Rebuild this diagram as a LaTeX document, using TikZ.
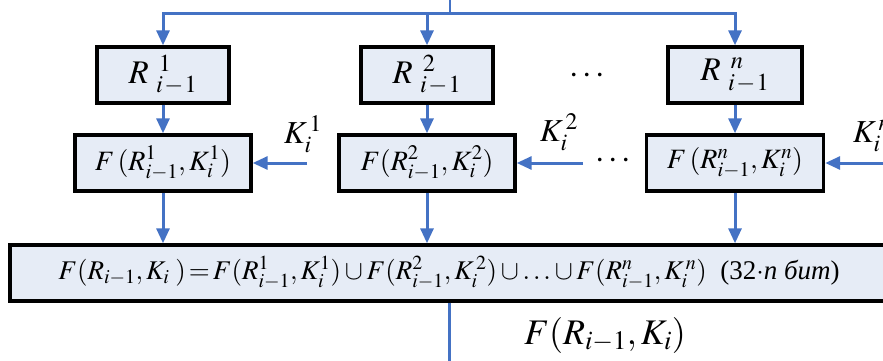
\documentclass[tikz,border=0pt]{standalone}
\usepackage{mathptmx}
\usepackage{fontspec}
\setmainfont{Liberation Serif}
\usetikzlibrary{arrows.meta}
\definecolor{flow}{HTML}{4472C4}
\definecolor{boxfill}{HTML}{E6ECF6}
\tikzset{
  blk/.style={draw=black, line width=3.4pt, fill=boxfill, inner sep=0pt,
    minimum height=56pt},
  rbox/.style={blk, minimum width=132pt, font=\fontsize{33}{38}\selectfont},
  fbox/.style={blk, minimum width=176pt, font=\fontsize{28}{32}\selectfont},
  flowline/.style={draw=flow, line width=3pt},
  arr/.style={flowline, -{Triangle[width=13pt,length=15pt]}},
  keylbl/.style={inner sep=0pt, font=\fontsize{32}{36}\selectfont},
  dots/.style={inner sep=0pt, font=\fontsize{34}{38}\selectfont},
}
\begin{document}
\begin{tikzpicture}[x=1pt, y=-1pt]
  \useasboundingbox (0,0) rectangle (883,361);

  % sub-block registers
  \node[rbox] (R1) at (163,75) {$R\;{}^{\,1}_{i\mkern1mu-\mkern1mu1}$};
  \node[rbox] (R2) at (427,75) {$R\;{}^{\,2}_{i\mkern1mu-\mkern1mu1}$};
  \node[rbox, minimum width=134pt] (R3) at (735,75) {$R\;{}^{\,n}_{i\mkern1mu-\mkern1mu1}$};
  \node[dots] (rdots) at (587,76) {$\cdots$};

  % round functions
  \node[fbox] (F1) at (163,163) {$F\,(R^{1}_{i-1},K^{1}_{i})$};
  \node[fbox] (F2) at (427,163) {$F(R^{2}_{i-1},K^{2}_{i})$};
  \node[fbox, minimum width=177pt] (F3) at (735,163) {$F\,(R^{n}_{i-1},K^{n}_{i})$};
  \node[dots] (fdots) at (613,161) {$\cdots$};

  % combined result
  \node[blk, minimum width=878pt, font=\fontsize{27}{31}\selectfont] (big) at (449,273)
    {$F(R_{i-1},K_{i}\;)\!=\!F(R^{1}_{i-1},K^{1}_{i})\cup F(R^{2}_{i-1},K^{\,2}_{i})\cup\ldots\cup F(R^{n}_{i-1},K^{\,n}_{i})$\ \ (32$\cdot$\textit{n бит})};

  % input bus
  \coordinate (top) at (450,0);
  \coordinate (bus) at (450,14);
  \draw[flowline, line width=2pt] (top) -- (bus);
  \draw[arr] (bus) -| (R1.north);
  \draw[arr] (bus) -| (R2.north);
  \draw[arr] (bus) -| (R3.north);

  % registers into functions
  \draw[arr] (R1.south) -- (F1.north);
  \draw[arr] (R2.south) -- (F2.north);
  \draw[arr] (R3.south) -- (F3.north);

  % round keys
  \coordinate (k1) at (307,163);
  \coordinate (k2) at (583,163);
  \coordinate (kn) at (895,163);
  \draw[arr] (k1) -- (F1.east);
  \draw[arr] (k2) -- (F2.east);
  \draw[arr] (kn) -- (F3.east);
  \node[keylbl] (K1) at (303,134) {$K^{\,1}_{i}$};
  \node[keylbl] (K2) at (559,132) {$K^{\,2}_{i}$};
  \node[keylbl] (Kn) at (872,136) {$K^{\,n}_{i}$};

  % functions into union
  \draw[arr] (F1.south) -- (F1.south |- big.north);
  \draw[arr] (F2.south) -- (F2.south |- big.north);
  \draw[arr] (F3.south) -- (F3.south |- big.north);

  % output
  \coordinate (out) at (449,361);
  \draw[flowline] (out |- big.south) -- (out);
  \node[inner sep=0pt, font=\fontsize{36}{40}\selectfont] (outlbl) at (605,335) {$F(R_{i-1},K_{i})$};
\end{tikzpicture}
\end{document}
